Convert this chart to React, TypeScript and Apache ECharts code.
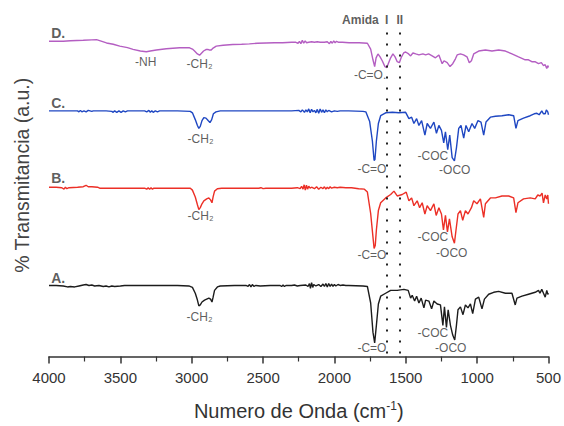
import React, { useEffect, useRef } from "react";
import * as echarts from "echarts";

const FONT = "Arial, 'Liberation Sans', Helvetica, sans-serif";

// x-axis ticks (wavenumber, cm-1)
const xMin = 500;
const xMax = 4000;
const xInterval = 500;

// Spectra: [wavenumber, transmittance relative to each baseline (a.u.)]
const spectrumA: [number, number][] = [
  [4000, 0], [3950, 0], [3900, -0.5], [3870, -1.5], [3850, -1], [3820, -1.5], [3790, -0.5], [3760, 0.5], [3740, 1], [3720, 0], [3700, 0.5], [3680, -0.5], [3650, 0], [3620, -1], [3600, -0.5], [3580, -1.5], [3560, -0.5], [3540, -1], [3500, -0.5], [3470, 0], [3300, 0], [3100, 0],
  [3020, -0.5], [2995, -2], [2975, -8], [2960, -15], [2950, -21], [2940, -20], [2928, -17], [2910, -15], [2895, -14], [2880, -13], [2868, -14], [2858, -17], [2850, -12], [2840, -5], [2820, -1.5], [2800, -0.5], [2700, 0],
  [2620, 0], [2605, -1], [2595, 1], [2585, -1.5], [2575, 1], [2565, -1], [2550, 0], [2520, -0.5], [2450, 0], [2380, 0], [2370, -1], [2360, 0.5], [2350, -1], [2340, 0], [2300, 0], [2280, 0.5], [2260, -0.5], [2240, 0],
  [2200, 0.5], [2185, -1], [2175, 2], [2168, -3], [2160, 3], [2152, -2], [2145, 1], [2130, -0.5], [2110, 1], [2095, -1], [2080, 1.5], [2070, -1], [2060, 2], [2050, -1.5], [2040, 2], [2030, -1], [2020, 1.5], [2010, -1], [2000, 1], [1990, -0.5], [1975, 1], [1960, 0], [1940, 0.5], [1920, 0], [1900, 0], [1800, -0.5], [1769, -1],
  [1746, -18], [1730, -48], [1718, -59], [1706, -41], [1692, -19], [1676, -11], [1641, -8], [1606, -5], [1560, -5], [1513, -4], [1483, -5], [1466, -13], [1455, -10], [1438, -16], [1424, -11], [1408, -18], [1392, -13], [1373, -23], [1361, -15], [1338, -16], [1319, -24], [1303, -16], [1280, -19], [1257, -20],
  [1240, -41], [1229, -22], [1215, -43], [1203, -25], [1187, -41], [1171, -51], [1157, -56], [1145, -41], [1134, -25], [1117, -22], [1099, -30], [1082, -20], [1064, -23], [1047, -19], [1031, -29], [1012, -14], [989, -12], [966, -24], [949, -14], [919, -9], [884, -7], [849, -6], [802, -8], [756, -8], [733, -20], [721, -13], [686, -11], [640, -9], [593, -7], [570, -5], [560, -8], [547, -4], [535, -8], [523, -12], [512, -5], [505, -9], [500, -8],
];

const spectrumB: [number, number][] = [
  [4000, 0], [3950, 0], [3910, -0.5], [3895, -2], [3885, 0], [3875, -1.5], [3860, -0.5], [3800, 0], [3760, 0.5], [3740, 2], [3725, 0.5], [3700, 0.5], [3660, 0], [3645, -1], [3500, -1], [3400, -1], [3330, -1], [3315, -2], [3305, -0.5], [3295, -2], [3285, -0.5], [3275, -2], [3265, -1], [3100, -1],
  [3010, -1], [2995, -3], [2975, -10], [2960, -18], [2950, -23], [2940, -21], [2928, -17], [2915, -14], [2895, -12], [2880, -11], [2868, -13], [2858, -16], [2850, -10], [2840, -4], [2820, -1.5], [2790, -1], [2600, -1],
  [2530, -1], [2515, -0.5], [2500, -1.5], [2480, -1], [2300, -1], [2260, -0.5], [2240, -1.5], [2230, 1], [2220, -2], [2212, 2.5], [2204, -3], [2196, 2], [2188, -2], [2180, 1], [2170, -1], [2160, 0], [2140, -1.5], [2125, 0.5], [2110, -2], [2095, 0], [2080, -1.5], [2070, 0.5], [2060, -2], [2050, 0], [2040, -1.5], [2030, 0.5], [2020, -1], [2000, 0], [1980, -0.5], [1960, 0], [1920, -0.5], [1880, -0.5], [1830, -1.5], [1790, -2], [1769, -5],
  [1746, -27], [1730, -51], [1722, -63], [1714, -60], [1706, -44], [1692, -24], [1676, -16], [1641, -11], [1606, -7.5], [1583, -4], [1560, -9], [1525, -7.5], [1497, -5], [1478, -14], [1459, -11], [1443, -19], [1420, -14], [1403, -21], [1385, -16], [1366, -27.5], [1350, -19], [1327, -24], [1303, -17], [1287, -29], [1268, -21], [1250, -27.5],
  [1236, -44], [1222, -29], [1208, -46], [1194, -32.5], [1175, -51], [1159, -57.5], [1148, -44], [1134, -27.5], [1117, -24], [1101, -34], [1082, -24], [1064, -27.5], [1040, -21], [1024, -14], [1001, -17], [977, -12], [954, -31], [942, -17], [907, -11], [872, -11], [826, -9], [779, -9], [744, -11], [728, -26], [714, -16], [675, -12], [628, -11], [593, -12], [575, -8], [558, -9], [545, -6], [535, -16], [523, -8], [512, -12], [505, -8], [500, -17],
];

const spectrumC: [number, number][] = [
  [4000, 0], [3800, 0], [3790, -1], [3780, 0.5], [3770, -1], [3755, 0], [3740, -1], [3725, 0.5], [3700, -0.5], [3690, 0], [3600, 0], [3560, -0.5], [3550, -1.5], [3540, 0], [3525, -1.5], [3510, 0], [3495, -1.5], [3480, 0], [3465, -1], [3450, 0], [3330, 0], [3315, -1], [3300, 0.5], [3290, -1.5], [3280, 0], [3270, -1.5], [3255, 0], [3240, -1], [3225, 0], [3100, 0],
  [3010, -0.5], [2995, -2], [2975, -9], [2960, -15], [2950, -18], [2940, -16], [2928, -10], [2915, -7], [2900, -7.5], [2885, -10], [2872, -12], [2860, -9], [2848, -3], [2830, -1], [2800, 0], [2300, 0],
  [2250, 0.5], [2235, -1], [2225, 1], [2210, -1.5], [2200, 1], [2190, -1], [2180, 2], [2170, -2], [2160, 1.5], [2150, -1], [2140, 0.5], [2130, -2], [2120, 1.5], [2110, -2.5], [2100, 2], [2090, -1.5], [2080, 1], [2070, -2], [2060, 1], [2050, -1], [2040, 0.5], [2020, -1], [2000, 0], [1980, -0.5], [1960, 0], [1900, 0], [1800, -0.5], [1780, -1],
  [1753, -11], [1734, -31], [1722, -51], [1716, -50], [1706, -31], [1692, -13], [1676, -5], [1641, -2], [1594, -1.5], [1548, -2], [1501, -1.5], [1478, -8], [1459, -6.5], [1443, -13], [1424, -8], [1408, -15], [1389, -10], [1366, -25], [1350, -13], [1327, -18], [1303, -11.5], [1285, -23], [1268, -15], [1250, -20],
  [1234, -33], [1222, -21.5], [1206, -40], [1192, -25], [1175, -48], [1159, -51.5], [1145, -38], [1129, -18], [1113, -15], [1094, -28], [1078, -15], [1059, -21.5], [1036, -13], [1017, -18], [994, -10], [973, -11.5], [954, -25], [938, -11.5], [907, -6.5], [872, -5.5], [826, -5], [779, -4], [744, -5], [728, -18], [714, -10], [675, -7.5], [628, -5], [600, -3], [581, -2.5], [565, -4], [547, 0], [535, -3], [523, -3], [515, 1], [505, -1], [500, -4],
];

const spectrumD: [number, number][] = [
  [4000, 0], [3900, 0], [3850, 0.5], [3760, 1], [3700, 1.5], [3667, 1.7], [3640, 0.5], [3597, -1.7], [3550, -3], [3504, -5], [3450, -6.5], [3411, -8.3], [3360, -10], [3318, -10.7], [3290, -10], [3248, -9], [3178, -7.7], [3085, -6.7], [3015, -6.7],
  [2995, -8], [2980, -10], [2960, -13], [2945, -14.3], [2930, -12], [2917, -10], [2900, -8.5], [2887, -8.3], [2875, -9], [2863, -9], [2850, -7], [2828, -5], [2780, -4], [2712, -3.3], [2650, -3], [2596, -2.7], [2540, -2], [2479, -1.7], [2420, -1.5], [2363, -1.5], [2300, -1],
  [2270, -1], [2255, -2], [2245, 0], [2235, -2.5], [2225, 1], [2215, -2], [2205, 0.5], [2195, -1.5], [2180, -1], [2160, -0.5], [2140, -1], [2120, -0.5], [2100, -1], [2070, -1], [2050, -0.5], [2035, -2.5], [2025, 0], [2015, -2], [2005, 0.5], [1995, -1.5], [1985, 0], [1970, -1], [1944, -1], [1897, -1.5], [1827, -1.5], [1769, -2],
  [1746, -8], [1730, -19], [1718, -26], [1708, -17], [1695, -13], [1680, -16], [1665, -20], [1646, -26], [1633, -27], [1620, -22], [1606, -17], [1590, -13], [1575, -16], [1560, -21], [1545, -22], [1530, -16], [1515, -12], [1501, -11], [1480, -13], [1466, -15], [1450, -12], [1430, -13], [1408, -14], [1380, -13], [1361, -14], [1340, -13], [1315, -15], [1292, -17], [1268, -14],
  [1245, -23], [1232, -20], [1210, -22], [1190, -26], [1171, -23], [1152, -18], [1140, -14], [1117, -13], [1095, -14], [1071, -16], [1055, -22], [1040, -20], [1024, -13], [989, -10], [942, -9], [896, -10], [849, -9], [802, -10], [756, -13], [710, -16], [663, -19], [640, -19], [617, -21], [595, -21], [570, -23], [550, -22], [535, -25], [523, -24], [512, -28], [505, -25], [500, -27],
];

const seriesNames = ["A.", "B.", "C.", "D."];
const seriesOffsets = [73, 174, 252.5, 324];
const seriesColors = ["#1c1c1c", "#ec2f26", "#1f47c2", "#b45ec2"];
const spectra = [spectrumA, spectrumB, spectrumC, spectrumD];

// Sample labels at the left of each trace: [text, wavenumber, value]
const sampleLabels: [string, number, number][] = [
  ["D.", 3985, 333],
  ["C.", 3985, 261],
  ["B.", 3985, 183],
  ["A.", 3985, 81],
];

// Band assignment labels: [text, wavenumber, value]
const peakLabels: [string, number, number][] = [
  ["-NH", 3322, 303],
  ["-CH₂", 2945, 301],
  ["-CH₂", 2938, 224],
  ["-CH₂", 2938, 144],
  ["-CH₂", 2945, 41],
  ["-C=O.", 1750, 289],
  ["-C=O", 1737, 193],
  ["-COC", 1310, 206],
  ["-OCO", 1157, 192],
  ["-C=O", 1737, 104],
  ["-COC", 1310, 123],
  ["-OCO", 1178, 106],
  ["-C=O", 1737, 9],
  ["-COC", 1310, 24],
  ["-OCO", 1185, 9],
];

// Amide I / II marker lines
const amideBands = [1633, 1542];
const amideTop = 333;
const amideLabels: [string, number, number][] = [
  ["Amida", 1818, 346],
  ["I", 1633, 346],
  ["II", 1542, 346],
];

export default function App() {
  const ref = useRef<HTMLDivElement>(null);

  useEffect(() => {
    if (!ref.current) return;
    const chart = echarts.init(ref.current, undefined, { renderer: "svg" });

    const lineSeries = spectra.map((sp, i) => ({
      type: "line",
      name: seriesNames[i],
      data: sp.map(([w, v]) => [w, v + seriesOffsets[i]]),
      showSymbol: false,
      symbol: "none",
      lineStyle: { color: seriesColors[i], width: 1.4 },
      itemStyle: { color: seriesColors[i] },
      z: 3,
      ...(i === 0
        ? {
            markLine: {
              silent: true,
              symbol: "none",
              label: { show: false },
              lineStyle: { color: "#222", width: 2, type: [2, 9] },
              data: amideBands.map((b) => [
                { coord: [b, amideTop] },
                { coord: [b, 0] },
              ]),
            },
          }
        : {}),
    }));

    const textSeries = (
      items: [string, number, number][],
      style: any,
      align: string
    ) => ({
      type: "scatter",
      data: items.map(([t, w, v]) => [w, v, t]),
      symbolSize: 1,
      itemStyle: { color: "transparent" },
      silent: true,
      z: 5,
      label: {
        show: true,
        position: "inside",
        align,
        verticalAlign: "middle",
        formatter: (p: any) => p.value[2],
        fontFamily: FONT,
        ...style,
      },
    });

    chart.setOption({
      animation: false,
      backgroundColor: "#ffffff",
      grid: { left: 49, right: 14, top: 16, bottom: 60 },
      xAxis: {
        type: "value",
        min: xMin,
        max: xMax,
        interval: xInterval,
        inverse: true,
        name: "{a|Numero de Onda (cm}{s|-1}{a|)}",
        nameLocation: "middle",
        nameGap: 43,
        nameTextStyle: {
          rich: {
            a: { fontSize: 20, color: "#333", fontFamily: FONT },
            s: { fontSize: 12, color: "#333", fontFamily: FONT, padding: [0, 0, 11, 0] },
          },
        },
        axisLine: { show: true, lineStyle: { color: "#333", width: 1.5 } },
        axisTick: { show: true, inside: false, length: 7, lineStyle: { color: "#333", width: 1.5 } },
        minorTick: { show: true, splitNumber: 2, length: 5, lineStyle: { color: "#333", width: 1.2 } },
        axisLabel: {
          fontSize: 15,
          color: "#333",
          fontFamily: FONT,
          margin: 13,
          formatter: (v: number) => String(v),
        },
        splitLine: { show: false },
        minorSplitLine: { show: false },
      },
      yAxis: {
        type: "value",
        min: 0,
        max: 350,
        name: "% Transmitancia (a.u.)",
        nameLocation: "middle",
        nameRotate: 90,
        nameGap: 17,
        nameTextStyle: { fontSize: 19.5, color: "#444", fontFamily: FONT, padding: [0, 0, 0, 22] },
        axisLine: { show: false },
        axisTick: { show: false },
        axisLabel: { show: false },
        splitLine: { show: false },
      },
      series: [
        ...lineSeries,
        textSeries(sampleLabels, { fontSize: 14, fontWeight: "bold", color: "#333" }, "left"),
        textSeries(peakLabels, { fontSize: 12, color: "#333" }, "center"),
        textSeries(amideLabels, { fontSize: 12, fontWeight: "bold", color: "#333" }, "center"),
      ],
    });

    return () => chart.dispose();
  }, []);

  return (
    <div
      ref={ref}
      style={{ position: "absolute", left: 0, top: 0, width: 564, height: 426 }}
    />
  );
}
